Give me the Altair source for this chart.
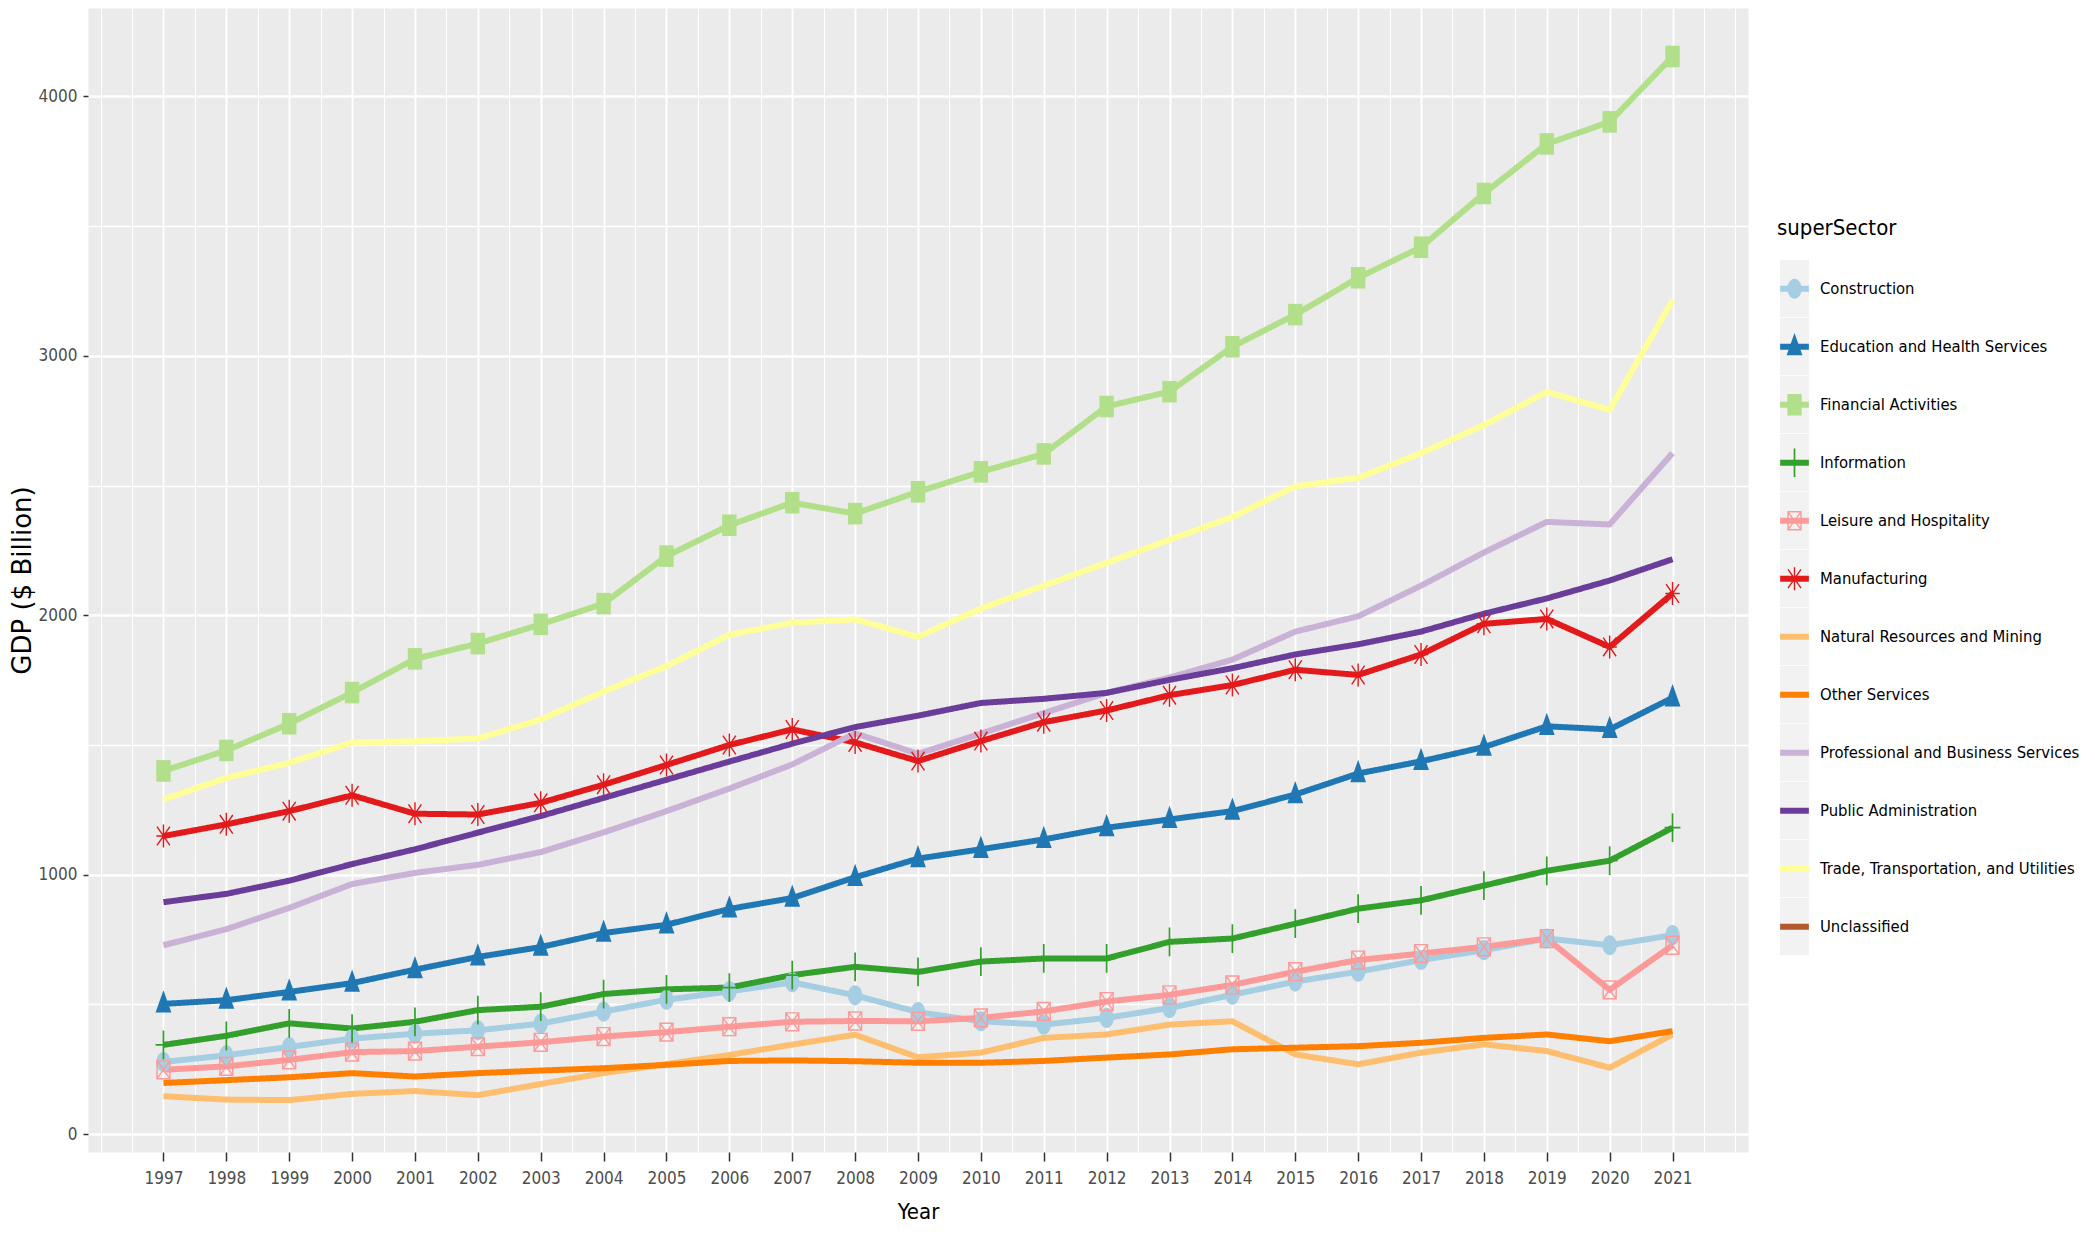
import altair as alt
import pandas as pd

years = list(range(1997, 2022))

sectors = [
    "Construction", "Education and Health Services", "Financial Activities",
    "Information", "Leisure and Hospitality", "Manufacturing",
    "Natural Resources and Mining", "Other Services",
    "Professional and Business Services", "Public Administration",
    "Trade, Transportation, and Utilities", "Unclassified",
]

construction = [278, 304, 336, 368, 387, 400, 426, 472, 518, 550, 585, 535, 470, 435, 422, 448, 486, 537, 588, 626, 671, 709, 754, 728, 767]
education = [502, 516, 548, 582, 634, 683, 721, 775, 807, 868, 910, 990, 1062, 1098, 1136, 1181, 1213, 1245, 1309, 1390, 1437, 1492, 1572, 1560, 1682]
financial = [1400, 1479, 1582, 1702, 1832, 1891, 1965, 2045, 2228, 2347, 2434, 2392, 2476, 2553, 2622, 2805, 2862, 3035, 3159, 3301, 3419, 3626, 3817, 3902, 4154]
information = [344, 379, 427, 407, 433, 478, 491, 540, 558, 565, 613, 645, 625, 665, 677, 677, 741, 754, 811, 869, 901, 958, 1015, 1054, 1181]
leisure = [248, 261, 286, 316, 320, 337, 354, 376, 393, 414, 433, 436, 435, 448, 473, 511, 537, 575, 626, 671, 696, 722, 754, 556, 728]
manufacturing = [1149, 1194, 1245, 1306, 1235, 1232, 1277, 1347, 1423, 1500, 1560, 1510, 1438, 1515, 1588, 1633, 1692, 1731, 1790, 1770, 1849, 1967, 1986, 1878, 2084]
natural = [146, 133, 131, 155, 166, 150, 193, 235, 270, 305, 345, 383, 296, 314, 371, 384, 422, 435, 307, 269, 314, 346, 320, 256, 384]
other = [197, 208, 219, 235, 222, 235, 245, 254, 267, 282, 284, 281, 275, 275, 282, 295, 307, 327, 333, 339, 352, 371, 384, 358, 397]
professional = [728, 790, 872, 964, 1007, 1038, 1087, 1163, 1245, 1332, 1425, 1545, 1466, 1544, 1623, 1701, 1760, 1829, 1937, 1996, 2114, 2242, 2360, 2350, 2625]
public_admin = [894, 926, 977, 1041, 1098, 1162, 1226, 1296, 1366, 1436, 1505, 1569, 1613, 1662, 1678, 1701, 1751, 1796, 1849, 1888, 1937, 2006, 2065, 2134, 2216]
trade = [1290, 1373, 1431, 1510, 1514, 1525, 1598, 1706, 1804, 1925, 1971, 1984, 1917, 2026, 2114, 2202, 2291, 2379, 2497, 2530, 2625, 2733, 2861, 2792, 3214]

series = {
    "Construction": construction,
    "Education and Health Services": education,
    "Financial Activities": financial,
    "Information": information,
    "Leisure and Hospitality": leisure,
    "Manufacturing": manufacturing,
    "Natural Resources and Mining": natural,
    "Other Services": other,
    "Professional and Business Services": professional,
    "Public Administration": public_admin,
    "Trade, Transportation, and Utilities": trade,
}

palette = ["#A6CEE3", "#1F78B4", "#B2DF8A", "#33A02C", "#FB9A99", "#E31A1C",
           "#FDBF6F", "#FF7F00", "#CAB2D6", "#6A3D9A", "#FFFF99", "#B15928"]

EMPTY = "M0,0"
shape_paths = [
    # filled circle
    "M0.5,0A0.5,0.7 0 1,1 -0.5,0A0.5,0.7 0 1,1 0.5,0Z",
    # filled triangle
    "M0,-0.95L0.55,0.6L-0.55,0.6Z",
    # filled square
    "M-0.5,-0.75H0.5V0.75H-0.5Z",
    # thin plus
    "M-0.06,-1H0.06V1H-0.06Z M-0.55,-0.06H0.55V0.06H-0.55Z",
    # square with cross
    "M-0.5,-0.67H0.5V0.67H-0.5Z M-0.4,-0.57V0.57H0.4V-0.57Z "
    "M-0.49,-0.591L-0.41,-0.649L0.49,0.591L0.41,0.649Z "
    "M-0.41,0.649L-0.49,0.591L0.41,-0.649L0.49,-0.591Z",
    # asterisk
    "M-0.05,-0.8H0.05V0.8H-0.05Z M-0.5,-0.05H0.5V0.05H-0.5Z "
    "M-0.491,-0.622L-0.409,-0.678L0.491,0.622L0.409,0.678Z "
    "M-0.409,0.678L-0.491,0.622L0.409,-0.678L0.491,-0.622Z",
    EMPTY, EMPTY, EMPTY, EMPTY, EMPTY, EMPTY,
]

x_grid_values = [1996 + 0.5 * i for i in range(53)]
y_grid_values = [0, 500, 1000, 1500, 2000, 2500, 3000, 3500, 4000]

# three overlaid legends need distinct domains so they are not merged
line_keys = sectors
point_keys = [s + " " for s in sectors]
bg_keys = [s + "  " for s in sectors]

rows = []
for i, s in enumerate(sectors):
    vals = series.get(s)
    if vals is None:
        continue
    for yr, v in zip(years, vals):
        rows.append({"Year": yr, "GDP": v, "lineKey": line_keys[i],
                     "ptKey": point_keys[i], "bgKey": bg_keys[i]})
df = pd.DataFrame(rows)

COND_FONT = "DejaVu Sans Condensed, Liberation Sans Narrow, DejaVu Sans"
SYM = 826

x_major = "datum.value >= 1997 && datum.value <= 2021 && datum.value % 1 == 0"
y_major = "datum.value % 1000 == 0"

x_enc = alt.X(
    "Year:Q",
    title="Year",
    scale=alt.Scale(domain=[1995.8, 2022.2], nice=False, zero=False),
    axis=alt.Axis(
        values=x_grid_values,
        labelExpr=f"({x_major}) ? format(datum.value, 'd') : ''",
        labelOverlap=False, labelFlush=False,
        domain=False,
        grid=True, gridColor="white",
        gridWidth={"condition": {"test": x_major, "value": 1.8}, "value": 1.0},
        ticks=True, tickColor="#333333", tickSize=9, tickWidth=1.5,
        tickOpacity={"condition": {"test": x_major, "value": 1}, "value": 0},
        labelFont=COND_FONT, labelFontSize=17, labelColor="#4D4D4D", labelPadding=9,
        titleFont=COND_FONT, titleFontSize=22, titleFontWeight="normal",
        titleColor="black", titlePadding=15,
    ),
)
y_enc = alt.Y(
    "GDP:Q",
    title="GDP ($ Billion)",
    scale=alt.Scale(domain=[-69, 4341], nice=False, zero=False),
    axis=alt.Axis(
        values=y_grid_values,
        labelExpr=f"({y_major}) ? format(datum.value, 'd') : ''",
        labelOverlap=False, labelFlush=False,
        domain=False,
        grid=True, gridColor="white",
        gridWidth={"condition": {"test": y_major, "value": 2.6}, "value": 1.3},
        ticks=True, tickColor="#333333", tickSize=5, tickWidth=1.5,
        tickOpacity={"condition": {"test": y_major, "value": 1}, "value": 0},
        labelFont=COND_FONT, labelFontSize=17, labelColor="#4D4D4D", labelPadding=6,
        titleFont="DejaVu Sans", titleFontSize=26, titleFontWeight="normal",
        titleColor="black", titlePadding=3,
    ),
)

common_legend = dict(
    title="superSector", orient="none", legendX=1689, legendY=210,
    symbolSize=SYM, clipHeight=57.5, rowPadding=0, padding=0,
    labelFont=COND_FONT, labelFontSize=16.5, labelColor="black", labelOffset=8,
    labelLimit=400,
    titleFont=COND_FONT, titleFontSize=22, titleFontWeight="normal",
    titleColor="black", titlePadding=20,
)

# grey key backgrounds
legend_bg = alt.Legend(
    **common_legend, symbolOffset=3, zindex=0,
    labelOpacity=0, titleOpacity=0,
    symbolType="M-1,-2H1V2H-1Z",
    symbolFillColor="#F2F2F2", symbolStrokeColor="transparent",
    symbolStrokeWidth=0, symbolOpacity=1,
)
# coloured line keys with labels
legend_line = alt.Legend(
    **common_legend, symbolOffset=0, zindex=1,
    symbolType="M-1,0H1", symbolStrokeWidth=6, symbolOpacity=1,
)
# point shapes on top
legend_shape = alt.Legend(
    **common_legend, symbolOffset=3, zindex=2,
    labelOpacity=0, titleOpacity=0,
    symbolStrokeWidth=0, symbolOpacity=1,
)

base = alt.Chart(df)

lines = base.mark_line(strokeWidth=6, strokeJoin="round").encode(
    x=x_enc, y=y_enc,
    stroke=alt.Stroke("lineKey:N", scale=alt.Scale(domain=line_keys, range=palette),
                      legend=legend_line),
    strokeDash=alt.StrokeDash(
        "bgKey:N",
        scale=alt.Scale(domain=bg_keys, range=[[1, 0]] * len(sectors)),
        legend=legend_bg,
    ),
    order=alt.Order("Year:Q"),
)

points = base.mark_point(filled=True, size=SYM, opacity=1).encode(
    x=x_enc, y=y_enc,
    color=alt.Color("ptKey:N", scale=alt.Scale(domain=point_keys, range=palette),
                    legend=legend_shape),
    shape=alt.Shape("ptKey:N", scale=alt.Scale(domain=point_keys, range=shape_paths),
                    legend=legend_shape),
)

chart = alt.layer(lines, points).properties(
    width=1660,
    height=1144,
    autosize=alt.AutoSizeParams(type="none"),
    padding={"left": 80, "top": 0, "right": 339, "bottom": 76},
    background="white",
).configure_view(fill="#EBEBEB", stroke="transparent")

chart.save("out.html", embed_options={"renderer": "svg", "actions": False})
